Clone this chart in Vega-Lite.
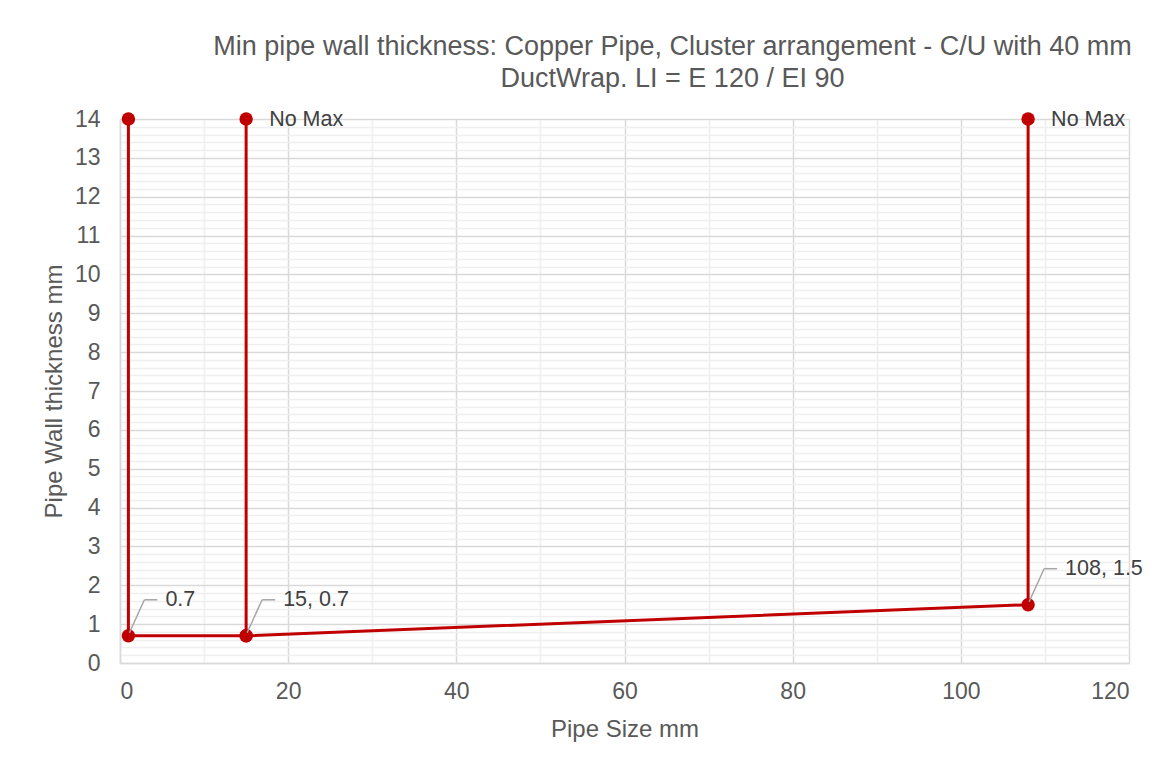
{
  "$schema": "https://vega.github.io/schema/vega-lite/v6.json",
  "autosize": "none",
  "width": 1009,
  "height": 544,
  "padding": {"left": 120, "top": 119, "right": 45, "bottom": 109},
  "background": "white",
  "config": {
    "view": {"stroke": null},
    "font": "Liberation Sans"
  },
  "title": {
    "text": ["Min pipe wall thickness: Copper Pipe, Cluster arrangement - C/U  with 40 mm", "DuctWrap. LI = E 120 / EI 90"],
    "anchor": "middle",
    "dx": 48,
    "fontSize": 27,
    "fontWeight": "normal",
    "color": "#595959",
    "font": "Liberation Sans",
    "lineHeight": 32,
    "offset": 15
  },
  "data": {
    "values": [
      {"size": 1, "thickness": 14, "seg": "A", "ord": 1, "label": null, "kind": "max"},
      {"size": 1, "thickness": 0.7, "seg": "A", "ord": 2, "label": "0.7", "kind": "min"},
      {"size": 15, "thickness": 0.7, "seg": "A", "ord": 3, "label": "15, 0.7", "kind": "min"},
      {"size": 108, "thickness": 1.5, "seg": "A", "ord": 4, "label": "108, 1.5", "kind": "min"},
      {"size": 108, "thickness": 14, "seg": "A", "ord": 5, "label": "No Max", "kind": "max"},
      {"size": 15, "thickness": 0.7, "seg": "B", "ord": 1, "label": null, "kind": "dup"},
      {"size": 15, "thickness": 14, "seg": "B", "ord": 2, "label": "No Max", "kind": "max"}
    ]
  },
  "encoding": {
    "x": {"field": "size", "type": "quantitative", "scale": {"domain": [0, 120], "nice": false},
      "axis": {"values": [0, 20, 40, 60, 80, 100, 120], "grid": true, "gridColor": "#d9d9d9", "gridWidth": 1.5, "ticks": false, "domain": true, "domainColor": "#d9d9d9", "domainWidth": 1.5, "labelFontSize": 23, "labelColor": "#595959", "labelPadding": 17, "labelOverlap": false, "title": "Pipe Size mm", "titleFontSize": 24, "titleFontWeight": "normal", "titleColor": "#595959", "titlePadding": 14, "orient": "bottom"}},
    "y": {"field": "thickness", "type": "quantitative", "scale": {"domain": [0, 14], "nice": false},
      "axis": {"values": [0,1,2,3,4,5,6,7,8,9,10,11,12,13,14], "grid": true, "gridColor": "#d9d9d9", "gridWidth": 1.5, "ticks": false, "domain": true, "domainColor": "#d9d9d9", "domainWidth": 1.5, "labelFontSize": 23, "labelColor": "#595959", "labelPadding": 20, "labelOverlap": false, "title": "Pipe Wall thickness mm", "titleFontSize": 24, "titleFontWeight": "normal", "titleColor": "#595959", "titlePadding": 8, "orient": "left"}}
  },
  "layer": [
    {
      "mark": {"type": "line", "opacity": 0},
      "encoding": {
        "x": {"field": "size", "type": "quantitative", "scale": {"domain": [0, 120], "nice": false},
          "axis": {"values": [10, 30, 50, 70, 90, 110], "grid": true, "gridColor": "#efefef", "gridWidth": 1.5, "labels": false, "ticks": false, "domain": false, "title": null, "orient": "bottom"}},
        "y": {"field": "thickness", "type": "quantitative", "scale": {"domain": [0, 14], "nice": false},
          "axis": {"values": [0.2,0.4,0.6,0.8,1.2,1.4,1.6,1.8,2.2,2.4,2.6,2.8,3.2,3.4,3.6,3.8,4.2,4.4,4.6,4.8,5.2,5.4,5.6,5.8,6.2,6.4,6.6,6.8,7.2,7.4,7.6,7.8,8.2,8.4,8.6,8.8,9.2,9.4,9.6,9.8,10.2,10.4,10.6,10.8,11.2,11.4,11.6,11.8,12.2,12.4,12.6,12.8,13.2,13.4,13.6,13.8], "grid": true, "gridColor": "#efefef", "gridWidth": 1.5, "labels": false, "ticks": false, "domain": false, "title": null, "orient": "left"}}
      }
    },
    {
      "layer": [
        {
          "mark": {"type": "line", "color": "#c00000", "strokeWidth": 3},
          "encoding": {
            "detail": {"field": "seg"},
            "order": {"field": "ord"}
          }
        },
        {
          "mark": {"type": "point", "filled": true, "color": "#c00000", "size": 180, "opacity": 1},
          "encoding": {}
        },
        {
          "transform": [{"filter": "datum.kind == 'min'"}],
          "mark": {"type": "rule", "color": "#a6a6a6", "strokeWidth": 1.5, "xOffset": 1, "yOffset": -3, "x2Offset": 16, "y2Offset": -36},
          "encoding": {"x2": {"field": "size"}, "y2": {"field": "thickness"}}
        },
        {
          "transform": [{"filter": "datum.kind == 'min'"}],
          "mark": {"type": "rule", "color": "#a6a6a6", "strokeWidth": 1.5, "xOffset": 16, "yOffset": -36, "x2Offset": 29, "y2Offset": -36},
          "encoding": {"x2": {"field": "size"}, "y2": {"field": "thickness"}}
        },
        {
          "transform": [{"filter": "datum.kind == 'min'"}],
          "mark": {"type": "text", "align": "left", "baseline": "middle", "dx": 37, "dy": -36, "fontSize": 21.5, "color": "#404040", "font": "Liberation Sans"},
          "encoding": {"text": {"field": "label"}}
        },
        {
          "transform": [{"filter": "datum.kind == 'max' && datum.label != null"}],
          "mark": {"type": "text", "align": "left", "baseline": "middle", "dx": 23, "dy": 1, "fontSize": 21.5, "color": "#404040", "font": "Liberation Sans"},
          "encoding": {"text": {"field": "label"}}
        }
      ]
    }
  ],
  "resolve": {"axis": {"x": "independent", "y": "independent"}}
}
